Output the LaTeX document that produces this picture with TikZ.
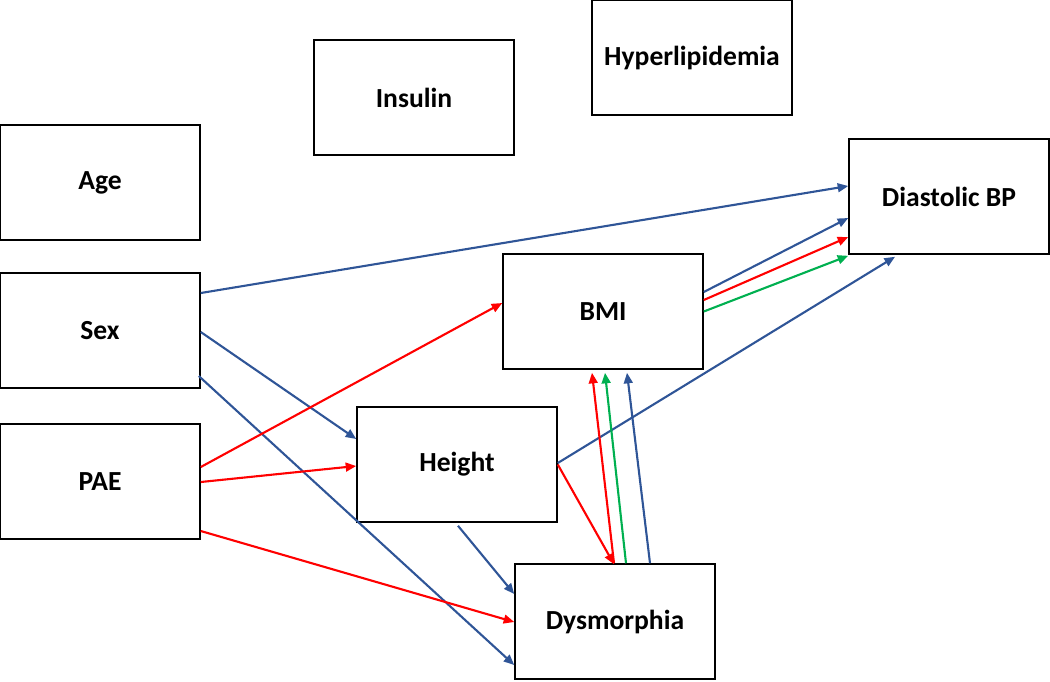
\documentclass[tikz,border=0pt]{standalone}
\usepackage{fontspec}
\setmainfont{Carlito}
\usetikzlibrary{arrows.meta,calc}
\definecolor{cblue}{HTML}{2F5597}
\definecolor{cred}{HTML}{FF0000}
\definecolor{cgreen}{HTML}{00B050}
\tikzset{
  box/.style={draw=black, line width=0.9pt, fill=white, minimum width=4cm, minimum height=2.3cm, inner sep=0pt, font=\bfseries\fontsize{15.7}{18}\selectfont},
  conn/.style={line width=1.2pt, -{Triangle[length=6pt,width=5pt]}},
  bl/.style={conn, draw=cblue, fill=cblue},
  rd/.style={conn, draw=cred, fill=cred},
  gr/.style={conn, draw=cgreen, fill=cgreen}
}
\begin{document}
\begin{tikzpicture}[x=0.02cm,y=-0.02cm]
\useasboundingbox (0,0) rectangle (1050,681);
\node[box] (age) at (100,182.5) {Age};
\node[box] (sex) at (100,330.5) {Sex};
\node[box] (pae) at (100,481.5) {PAE};
\node[box] (ins) at (414,97.5) {Insulin};
\node[box] (hyp) at (692,57.5) {Hyperlipidemia};
\node[box] (dia) at (949,196.5) {Diastolic BP};
\node[box] (bmi) at (603,311.5) {BMI};
\node[box] (hei) at (457,464.5) {Height};
\node[box] (dys) at (615,621.5) {Dysmorphia};
% blue
\draw[bl] ($(sex.east)+(0,-37.5)$) -- ($(dia.west)+(0,-10.5)$);
\draw[bl] ($(sex.east)+(0,1.5)$) -- ($(hei.west)+(0,-25.5)$);
\draw[bl] ($(sex.east)+(-2,45.5)$) -- ($(dys.west)+(0,43.5)$);
\draw[bl] ($(hei.east)+(0,-1.5)$) -- ($(dia.south)+(-54,2)$);
\draw[bl] ($(hei.south)+(1,3)$) -- ($(dys.west)+(0,-27.5)$);
\draw[bl] ($(bmi.east)+(0,-19.5)$) -- ($(dia.west)+(0,21.5)$);
\draw[bl] ($(dys.north)+(35,0)$) -- ($(bmi.south)+(24,3)$);
% red
\draw[rd] ($(pae.east)+(0,-14.5)$) -- ($(bmi.west)+(0,-8.5)$);
\draw[rd] ($(pae.east)+(0,0.5)$) -- ($(hei.west)+(0,1.5)$);
\draw[rd] ($(pae.east)+(0,49.5)$) -- ($(dys.west)+(0,0.5)$);
\draw[rd] ($(bmi.east)+(0,-11.5)$) -- ($(dia.west)+(0,40.5)$);
\draw[rd] (hei.east) -- ($(dys.north)+(-1,1)$);
\draw[rd] ($(dys.north)+(-1,0)$) -- ($(bmi.south)+(-11,3)$);
% green
\draw[gr] (bmi.east) -- ($(dia.south west)+(0,1)$);
\draw[gr] ($(dys.north)+(11,0)$) -- ($(bmi.south)+(2,3)$);
\end{tikzpicture}
\end{document}
